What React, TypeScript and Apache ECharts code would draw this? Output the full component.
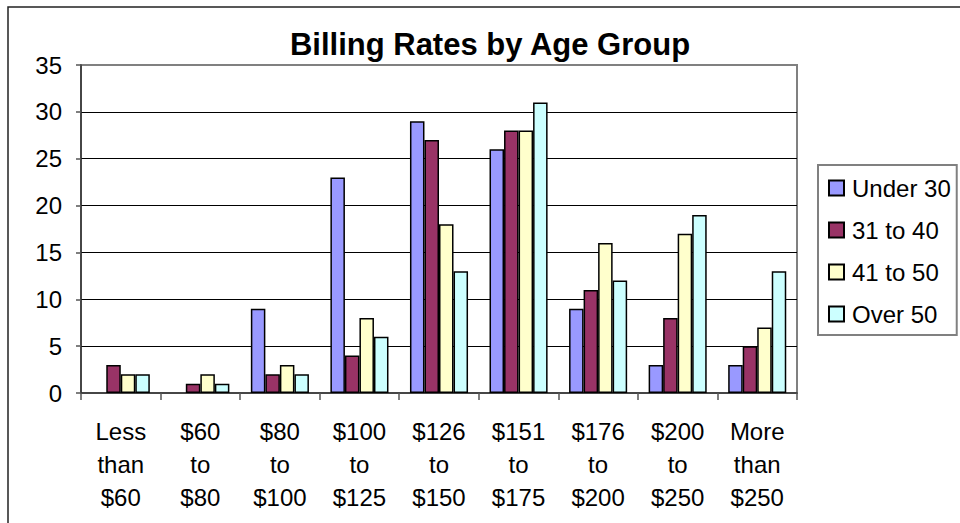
import React, { useEffect, useRef } from "react";
import * as echarts from "echarts";

const categories = [
  "Less\nthan\n$60",
  "$60\nto\n$80",
  "$80\nto\n$100",
  "$100\nto\n$125",
  "$126\nto\n$150",
  "$151\nto\n$175",
  "$176\nto\n$200",
  "$200\nto\n$250",
  "More\nthan\n$250",
];
const seriesNames = ["Under 30", "31 to 40", "41 to 50", "Over 50"];
const under30 = [0, 0, 9, 23, 29, 26, 9, 3, 3];
const age31to40 = [3, 1, 2, 4, 27, 28, 11, 8, 5];
const age41to50 = [2, 2, 3, 8, 18, 28, 16, 17, 7];
const over50 = [2, 1, 2, 6, 13, 31, 12, 19, 13];
const seriesColors = ["#9999FF", "#993366", "#FFFFCC", "#CCFFFF"];
const titleText = "Billing Rates by Age Group";

const FONT = "'Liberation Sans', Arial, Helvetica, sans-serif";

export default function App() {
  const ref = useRef<HTMLDivElement>(null);
  useEffect(() => {
    if (!ref.current) return;
    const chart = echarts.init(ref.current, undefined, { renderer: "svg" });
    const values = [under30, age31to40, age41to50, over50];
    chart.setOption({
      animation: false,
      backgroundColor: "#ffffff",
      textStyle: { fontFamily: FONT },
      grid: {
        left: 81,
        right: 163,
        top: 65,
        bottom: 130,
        show: true,
        borderColor: "#808080",
        borderWidth: 2,
        backgroundColor: "transparent",
      },
      xAxis: {
        type: "category",
        data: categories,
        boundaryGap: true,
        axisLine: { show: true, lineStyle: { color: "#333", width: 1.5 } },
        axisTick: { show: true, length: 7, inside: false, lineStyle: { color: "#555", width: 1.5 } },
        axisLabel: {
          interval: 0,
          fontSize: 24,
          lineHeight: 33,
          color: "#000",
          margin: 22,
          fontFamily: FONT,
          align: "center",
        },
        splitLine: { show: false },
      },
      yAxis: {
        type: "value",
        min: 0,
        max: 35,
        interval: 5,
        axisLine: { show: true, lineStyle: { color: "#333", width: 1.5 } },
        axisTick: { show: true, length: 5, inside: false, lineStyle: { color: "#555", width: 1.5 } },
        axisLabel: { fontSize: 24, color: "#000", margin: 19, fontFamily: FONT },
        splitLine: {
          show: true,
          showMinLine: false,
          showMaxLine: false,
          lineStyle: { color: "#000", width: 1 },
        },
      },
      legend: {
        orient: "vertical",
        left: 818,
        top: 165,
        data: seriesNames,
        icon: "rect",
        itemWidth: 15,
        itemHeight: 15,
        itemGap: 18,
        padding: [11, 6, 9, 10],
        borderColor: "#808080",
        borderWidth: 2,
        backgroundColor: "#ffffff",
        textStyle: { fontSize: 24, color: "#000", fontFamily: FONT, padding: [0, 0, 0, 3] },
      },
      series: seriesNames.map((name, i) => ({
        name,
        type: "bar",
        data: values[i].map((v) =>
          v === 0 ? { value: v, itemStyle: { borderWidth: 0, opacity: 0 } } : v
        ),
        barGap: "0%",
        barCategoryGap: "27%",
        itemStyle: { color: seriesColors[i], borderColor: "#000", borderWidth: 1.5 },
      })),
      graphic: [
        {
          type: "rect",
          shape: { x: 8, y: 7, width: 1000, height: 700 },
          style: { fill: "none", stroke: "#222", lineWidth: 1.5 },
          silent: true,
          z: 100,
        },
        {
          type: "text",
          x: 490,
          y: 44,
          style: {
            text: titleText,
            font: `bold 31px ${FONT}`,
            fill: "#000",
            textAlign: "center",
            textVerticalAlign: "middle",
          },
        },
      ],
    });
    return () => chart.dispose();
  }, []);
  return (
    <div
      ref={ref}
      style={{ position: "fixed", left: 0, top: 0, width: 960, height: 523 }}
    />
  );
}
